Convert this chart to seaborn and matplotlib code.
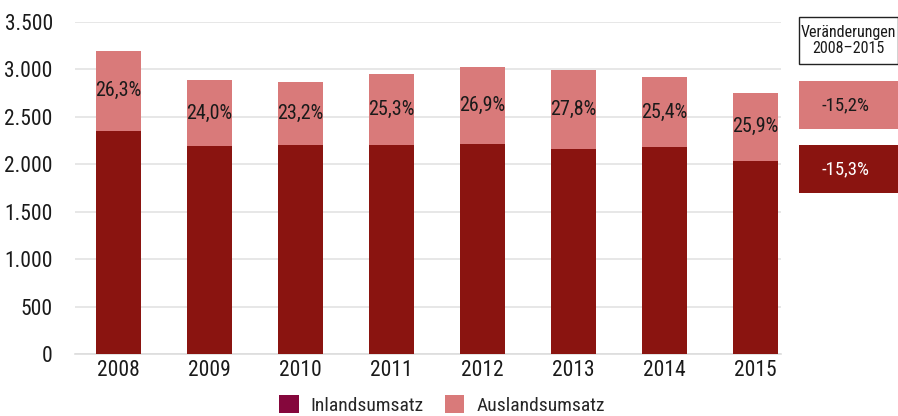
import matplotlib
matplotlib.use("Agg")
import matplotlib.pyplot as plt
import seaborn as sns
import pandas as pd
from matplotlib.patches import Patch, Rectangle

years = ["2008", "2009", "2010", "2011", "2012", "2013", "2014", "2015"]
inland = [2354, 2195, 2202, 2205, 2211, 2162, 2178, 2039]
ausland = [840, 693, 665, 747, 814, 832, 742, 712]
shares = ["26,3%", "24,0%", "23,2%", "25,3%", "26,9%", "27,8%", "25,4%", "25,9%"]
yticks = [0, 500, 1000, 1500, 2000, 2500, 3000, 3500]
ytick_labels = ["0", "500", "1.000", "1.500", "2.000", "2.500", "3.000", "3.500"]
box_title = "Veränderungen\n2008–2015"
change_ausland = "-15,2%"
change_inland = "-15,3%"
legend_labels = ["Inlandsumsatz", "Auslandsumsatz"]

c_in = "#8A1410"
c_aus = "#D97A7A"
c_leg_in = "#85073C"

sns.set_theme(style="white")
plt.rcParams["font.family"] = ["Liberation Sans Narrow", "Roboto Condensed", "DejaVu Sans"]

df = pd.DataFrame({"year": years, "inland": inland, "ausland": ausland})
df["total"] = df["inland"] + df["ausland"]

fig = plt.figure(figsize=(8.98, 4.16), dpi=100)
ax = fig.add_axes([75/898, (416-354)/416, (781-75)/898, (354-22)/416])

sns.barplot(data=df, x="year", y="total", color=c_aus, width=0.495, ax=ax,
            saturation=1, linewidth=0, zorder=2)
sns.barplot(data=df, x="year", y="inland", color=c_in, width=0.495, ax=ax,
            saturation=1, linewidth=0, zorder=3)

for i, (a, b, s) in enumerate(zip(inland, ausland, shares)):
    ax.text(i, a + b / 2, s, ha="center", va="center", fontsize=14.5,
            color="#1a1a1a", zorder=4)

ax.set_ylim(0, 3500)
ax.set_xlim(-0.478, 7.28)
ax.set_yticks(yticks)
ax.set_yticklabels(ytick_labels, fontsize=15.5, color="#1a1a1a")
ax.tick_params(axis="x", labelsize=15.5, colors="#1a1a1a", length=0, pad=4)
ax.tick_params(axis="y", length=0, pad=16)
ax.set_xlabel("")
ax.set_ylabel("")
ax.grid(axis="y", color="#e3e3e3", linewidth=1.2, zorder=0)
ax.set_axisbelow(True)
for sp in ["top", "right", "left"]:
    ax.spines[sp].set_visible(False)
ax.spines["bottom"].set_color("#dddddd")
ax.spines["bottom"].set_linewidth(1.2)

# right-side boxes
fig.patches.append(Rectangle((799/898, (416-64)/416), 99/898, 47/416,
                             transform=fig.transFigure, facecolor="white",
                             edgecolor="#222222", linewidth=1.0))
fig.text(848/898, (416-40.5)/416, box_title, ha="center", va="center",
         fontsize=11.5, color="#1a1a1a", linespacing=1.15)
fig.patches.append(Rectangle((799/898, (416-129)/416), 99/898, 48/416,
                             transform=fig.transFigure, facecolor=c_aus,
                             edgecolor="none"))
fig.text(845/898, (416-105)/416, change_ausland, ha="center", va="center",
         fontsize=13.5, color="#1a1a1a")
fig.patches.append(Rectangle((799/898, (416-193)/416), 99/898, 48/416,
                             transform=fig.transFigure, facecolor=c_in,
                             edgecolor="none"))
fig.text(845/898, (416-169)/416, change_inland, ha="center", va="center",
         fontsize=13.5, color="white")

handles = [Patch(facecolor=c_leg_in, edgecolor="none"),
           Patch(facecolor=c_aus, edgecolor="none")]
fig.legend(handles, legend_labels, loc="center", bbox_to_anchor=(442/898, (416-405)/416),
           ncol=2, frameon=False, fontsize=14, handlelength=1.0, handleheight=1.0,
           handletextpad=0.6, columnspacing=1.1)

fig.savefig("out.png", dpi=100)
